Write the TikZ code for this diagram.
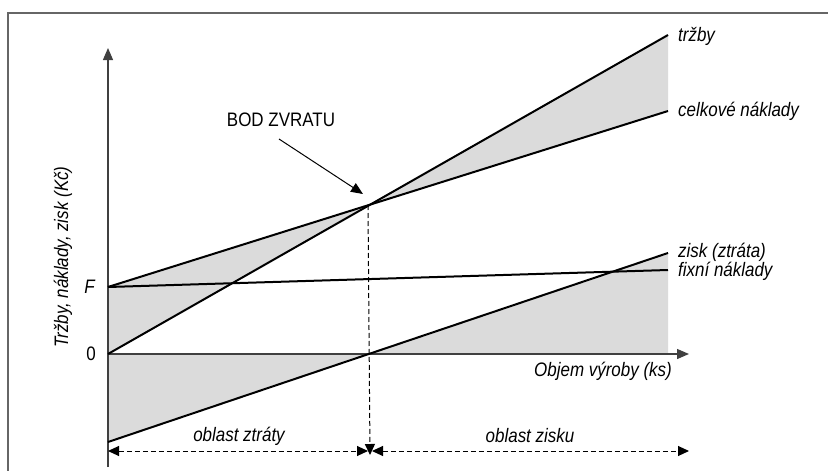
\documentclass[tikz,border=0pt]{standalone}
\usepackage{fontspec}
\setmainfont{Liberation Sans}[FakeStretch=0.87]
\usetikzlibrary{arrows.meta}

\begin{document}
\begin{tikzpicture}[x=1pt, y=-1pt, font=\fontsize{19.5}{22}\selectfont,
    >={Triangle[length=11pt, width=10pt]},
    line/.style = {line width=2pt, black},
    axis/.style = {line width=1.3pt, black!75, -{Triangle[length=12pt, width=10pt]}},
    guide/.style = {line width=1pt, dash pattern=on 5pt off 3pt},
    lbl/.style = {inner sep=0pt, font=\fontsize{19.5}{22}\selectfont\itshape},
    area/.style = {fill=black!14}]
        \useasboundingbox (0,0) rectangle (828,471);
        \draw[black!60, line width=1.2pt] (8,471) -- (8,13) -- (828,13);

        \coordinate (O) at (108,354);
        \coordinate (F) at (108,287);
        \coordinate (bep) at (368,205);
        \coordinate (zero) at (368,354);
        \coordinate (tEnd) at (668,35);
        \coordinate (cEnd) at (668,111);
        \coordinate (fEnd) at (668,270);
        \coordinate (zStart) at (108,442);
        \coordinate (zEnd) at (668,253);
        \coordinate (xRight) at (668,354);
        \coordinate (xEnd) at (689,354);
        \coordinate (yTop) at (108,48);
        \coordinate (yBot) at (108,467);
        \coordinate (foot) at (370,455);
        \coordinate (aLeft) at (108,451);
        \coordinate (aMidL) at (368,451);
        \coordinate (aMidR) at (372,451);
        \coordinate (aRight) at (689,451);

        \fill[area] (O) -- (F) -- (bep) -- cycle;
        \fill[area] (bep) -- (tEnd) -- (cEnd) -- cycle;
        \fill[area] (O) -- (zero) -- (zStart) -- cycle;
        \fill[area] (zero) -- (xRight) -- (zEnd) -- cycle;

        \draw[axis] (yBot) -- (yTop);
        \draw[axis] (O) -- (xEnd);

        \draw[line] (O) -- (tEnd);
        \draw[line] (F) -- (cEnd);
        \draw[line] (F) -- (fEnd);
        \draw[line] (zStart) -- (zEnd);

        \draw[guide, ->] (bep) -- (foot);
        \draw[guide, <->] (aLeft) -- (aMidL);
        \draw[guide, <->] (aMidR) -- (aRight);

        \node[lbl, anchor=west] (trzby) at (678,36) {tržby};
        \node[lbl, anchor=west] (celk) at (678,111) {celkové náklady};
        \node[lbl, anchor=west] (zisk) at (678,252) {zisk (ztráta)};
        \node[lbl, anchor=west] (fixni) at (678,271) {fixní náklady};
        \node[lbl, anchor=east] (objem) at (672,371) {Objem výroby (ks)};
        \node[lbl] (ztraty) at (239,436) {oblast ztráty};
        \node[lbl] (zisku) at (530,436) {oblast zisku};
        \node[lbl, rotate=90] (ylab) at (63,257) {Tržby, náklady, zisk (Kč)};
        \node[lbl, anchor=east] (Flab) at (95,287) {F};
        \node[inner sep=0pt, anchor=east] (nula) at (96,354) {0};

        \node[inner sep=0pt] (bod) at (281,120) {BOD ZVRATU};
        \coordinate (bodTail) at (279,139);
        \coordinate (bodTip) at (363,194);
        \draw[line width=1pt, -{Triangle[length=12pt, width=10pt]}] (bodTail) -- (bodTip);
\end{tikzpicture}
\end{document}
